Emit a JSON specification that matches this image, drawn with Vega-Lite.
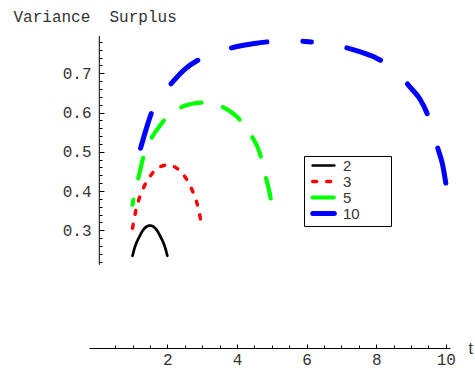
{
  "$schema": "https://vega.github.io/schema/vega-lite/v6.json",
  "width": 361,
  "height": 314,
  "autosize": {"type": "none"},
  "padding": {"left": 89, "top": 34, "right": 25, "bottom": 28},
  "background": "white",
  "config": {"view": {"stroke": null}, "font": "Liberation Sans"},
  "resolve": {"axis": {"x": "independent", "y": "independent"}},
  "data": {"values": [
    {"n": "2", "t": 1.0, "v": 0.235}, {"n": "2", "t": 1.05, "v": 0.252}, {"n": "2", "t": 1.1, "v": 0.265},
    {"n": "2", "t": 1.2, "v": 0.284}, {"n": "2", "t": 1.3, "v": 0.300}, {"n": "2", "t": 1.4, "v": 0.309},
    {"n": "2", "t": 1.5, "v": 0.312}, {"n": "2", "t": 1.6, "v": 0.309}, {"n": "2", "t": 1.7, "v": 0.300},
    {"n": "2", "t": 1.8, "v": 0.284}, {"n": "2", "t": 1.9, "v": 0.265}, {"n": "2", "t": 1.95, "v": 0.252},
    {"n": "2", "t": 2.0, "v": 0.235},
    {"n": "3", "t": 1.0, "v": 0.305}, {"n": "3", "t": 1.05, "v": 0.330}, {"n": "3", "t": 1.1, "v": 0.352},
    {"n": "3", "t": 1.2, "v": 0.383}, {"n": "3", "t": 1.3, "v": 0.405}, {"n": "3", "t": 1.4, "v": 0.423},
    {"n": "3", "t": 1.5, "v": 0.437}, {"n": "3", "t": 1.6, "v": 0.448}, {"n": "3", "t": 1.7, "v": 0.456},
    {"n": "3", "t": 1.8, "v": 0.462}, {"n": "3", "t": 1.9, "v": 0.465}, {"n": "3", "t": 2.0, "v": 0.466},
    {"n": "3", "t": 2.1, "v": 0.465}, {"n": "3", "t": 2.2, "v": 0.462}, {"n": "3", "t": 2.3, "v": 0.456},
    {"n": "3", "t": 2.4, "v": 0.448}, {"n": "3", "t": 2.5, "v": 0.437}, {"n": "3", "t": 2.6, "v": 0.423},
    {"n": "3", "t": 2.7, "v": 0.405}, {"n": "3", "t": 2.8, "v": 0.383}, {"n": "3", "t": 2.9, "v": 0.352},
    {"n": "3", "t": 2.95, "v": 0.330}, {"n": "3", "t": 3.0, "v": 0.305},
    {"n": "5", "t": 1.0, "v": 0.365}, {"n": "5", "t": 1.05, "v": 0.390}, {"n": "5", "t": 1.1, "v": 0.410},
    {"n": "5", "t": 1.2, "v": 0.445}, {"n": "5", "t": 1.3, "v": 0.483}, {"n": "5", "t": 1.4, "v": 0.510},
    {"n": "5", "t": 1.5, "v": 0.528}, {"n": "5", "t": 1.75, "v": 0.562}, {"n": "5", "t": 2.0, "v": 0.589},
    {"n": "5", "t": 2.25, "v": 0.606}, {"n": "5", "t": 2.5, "v": 0.617}, {"n": "5", "t": 2.75, "v": 0.623},
    {"n": "5", "t": 3.0, "v": 0.625}, {"n": "5", "t": 3.25, "v": 0.623}, {"n": "5", "t": 3.5, "v": 0.617},
    {"n": "5", "t": 3.75, "v": 0.606}, {"n": "5", "t": 4.0, "v": 0.589}, {"n": "5", "t": 4.25, "v": 0.562},
    {"n": "5", "t": 4.5, "v": 0.528}, {"n": "5", "t": 4.6, "v": 0.510}, {"n": "5", "t": 4.7, "v": 0.483},
    {"n": "5", "t": 4.8, "v": 0.445}, {"n": "5", "t": 4.9, "v": 0.410}, {"n": "5", "t": 4.95, "v": 0.390},
    {"n": "5", "t": 5.0, "v": 0.365},
    {"n": "10", "t": 1.0, "v": 0.42}, {"n": "10", "t": 1.1, "v": 0.47}, {"n": "10", "t": 1.2, "v": 0.50},
    {"n": "10", "t": 1.3, "v": 0.53}, {"n": "10", "t": 1.4, "v": 0.56}, {"n": "10", "t": 1.55, "v": 0.60},
    {"n": "10", "t": 1.75, "v": 0.635}, {"n": "10", "t": 2.0, "v": 0.662}, {"n": "10", "t": 2.5, "v": 0.710},
    {"n": "10", "t": 3.0, "v": 0.739}, {"n": "10", "t": 3.5, "v": 0.756}, {"n": "10", "t": 4.0, "v": 0.768},
    {"n": "10", "t": 4.5, "v": 0.776}, {"n": "10", "t": 5.0, "v": 0.781}, {"n": "10", "t": 5.5, "v": 0.783},
    {"n": "10", "t": 5.97, "v": 0.781}, {"n": "10", "t": 6.5, "v": 0.776}, {"n": "10", "t": 7.0, "v": 0.768},
    {"n": "10", "t": 7.5, "v": 0.756}, {"n": "10", "t": 8.0, "v": 0.739}, {"n": "10", "t": 8.5, "v": 0.710},
    {"n": "10", "t": 9.0, "v": 0.662}, {"n": "10", "t": 9.25, "v": 0.635}, {"n": "10", "t": 9.45, "v": 0.60},
    {"n": "10", "t": 9.6, "v": 0.56}, {"n": "10", "t": 9.7, "v": 0.53}, {"n": "10", "t": 9.8, "v": 0.50},
    {"n": "10", "t": 9.9, "v": 0.47}, {"n": "10", "t": 10.0, "v": 0.42}
  ]},
  "layer": [
    {
      "encoding": {
        "x": {
          "field": "t", "type": "quantitative",
          "scale": {"domain": [-0.25, 10.12], "nice": false, "zero": false},
          "axis": {
            "title": "t", "orient": "bottom",
            "values": [2, 4, 6, 8, 10],
            "format": "d",
            "grid": false, "domain": true, "domainColor": "#000000", "domainWidth": 1,
            "tickColor": "#000000", "tickSize": -4, "tickWidth": 1,
            "labelFont": "Liberation Mono", "labelFontSize": 16, "labelColor": "#333333",
            "labelPadding": 7, "labelOverlap": false, "labelBound": false, "labelFlush": false,
            "titleFont": "Liberation Sans", "titleFontSize": 16, "titleFontWeight": "normal", "titleColor": "#333333",
            "titleX": 379, "titleY": 0, "titleAlign": "left", "titleBaseline": "middle", "titleAngle": 0
          }
        },
        "y": {
          "field": "v", "type": "quantitative",
          "scale": {"domain": [0, 0.8], "nice": false, "zero": false},
          "axis": {
            "title": "Variance\u00a0\u00a0Surplus", "orient": "left",
            "values": [0.3, 0.4, 0.5, 0.6, 0.7],
            "format": ".1f",
            "offset": -10,
            "grid": false, "domain": false,
            "tickColor": "#000000", "tickSize": -5, "tickWidth": 1,
            "labelFont": "Liberation Mono", "labelFontSize": 16, "labelColor": "#333333",
            "labelPadding": 13, "labelOverlap": false, "labelBound": false, "labelFlush": false,
            "titleFont": "Liberation Mono", "titleFontSize": 16, "titleFontWeight": "normal", "titleColor": "#333333",
            "titleX": -86, "titleY": -18, "titleAlign": "left", "titleBaseline": "middle", "titleAngle": 0
          }
        },
        "color": {
          "field": "n", "type": "ordinal",
          "scale": {"domain": ["2", "3", "5", "10"], "range": ["#000000", "#ff0000", "#00ff00", "#0000ff"]},
          "legend": {
            "title": "\u00a0", "titleOrient": "right", "titlePadding": 29,
            "orient": "none", "legendX": 215, "legendY": 122,
            "padding": 2, "strokeColor": "#000000", "fillColor": "#ffffff", "cornerRadius": 0,
            "labelFont": "Liberation Sans", "labelFontSize": 15, "labelColor": "#333333",
            "symbolSize": 64, "symbolType": "M-2.7,0H2.7", "symbolOffset": 10, "rowPadding": -4, "labelOffset": 12,
            "encode": {"symbols": {"update": {"strokeCap": {"value": "round"}, "fill": {"value": "transparent"}}}}
          }
        },
        "strokeDash": {
          "field": "n", "type": "ordinal",
          "scale": {"domain": ["2", "3", "5", "10"], "range": [[1, 0], [4, 10], [21, 22], [36, 36]]}
        },
        "strokeWidth": {
          "field": "n", "type": "ordinal",
          "scale": {"domain": ["2", "3", "5", "10"], "range": [2.7, 5, 7, 10]}
        }
      },
      "layer": [
        {
          "transform": [{"filter": "datum.n == '2'"}],
          "mark": {"type": "line", "interpolate": "monotone", "strokeCap": "round"}
        },
        {
          "transform": [{"filter": "datum.n == '3'"}],
          "mark": {"type": "line", "interpolate": "monotone", "strokeCap": "round"}
        },
        {
          "transform": [{"filter": "datum.n == '5'"}],
          "mark": {"type": "line", "interpolate": "monotone", "strokeCap": "round", "strokeDashOffset": 16}
        },
        {
          "transform": [{"filter": "datum.n == '10' && datum.t <= 5.97"}],
          "mark": {"type": "line", "interpolate": "monotone", "strokeCap": "round", "strokeDashOffset": 36}
        },
        {
          "transform": [{"filter": "datum.n == '10' && datum.t >= 5.97"}],
          "mark": {"type": "line", "interpolate": "monotone", "strokeCap": "round"},
          "encoding": {"order": {"field": "t", "sort": "descending"}}
        }
      ]
    },
    {
      "data": {"values": [{}]},
      "mark": {"type": "rule", "color": "#000000", "strokeWidth": 1},
      "encoding": {
        "x": {
          "datum": 0.046, "type": "quantitative",
          "axis": {
            "title": null, "orient": "bottom", "labels": false, "domain": false, "grid": false,
            "values": [0.5, 1, 1.5, 2.5, 3, 3.5, 4.5, 5, 5.5, 6.5, 7, 7.5, 8.5, 9, 9.5],
            "tickColor": "#000000", "tickSize": -3, "tickWidth": 1
          }
        },
        "y": {
          "datum": 0.212, "type": "quantitative",
          "axis": {
            "title": null, "orient": "left", "labels": false, "domain": false, "grid": false, "offset": -10,
            "values": [0.22, 0.24, 0.26, 0.28, 0.32, 0.34, 0.36, 0.38, 0.42, 0.44, 0.46, 0.48, 0.52, 0.54, 0.56, 0.58, 0.62, 0.64, 0.66, 0.68, 0.72, 0.74, 0.76, 0.78],
            "tickColor": "#000000", "tickSize": -3, "tickWidth": 1
          }
        },
        "y2": {"datum": 0.795}
      }
    }
  ]
}
